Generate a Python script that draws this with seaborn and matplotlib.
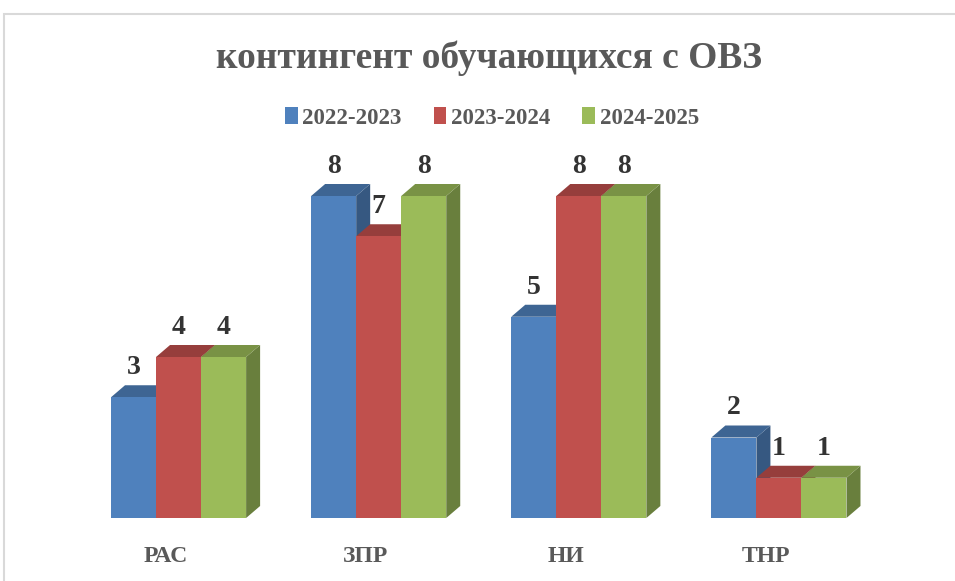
import matplotlib
matplotlib.use("Agg")
import matplotlib.pyplot as plt
import matplotlib.transforms as mtransforms
from matplotlib.patches import Polygon, Rectangle
import matplotlib.colors as mcolors
import seaborn as sns
import pandas as pd
import numpy as np

categories = ["РАС", "ЗПР", "НИ", "ТНР"]
years = ["2022-2023", "2023-2024", "2024-2025"]
vals_2022 = [3, 8, 5, 2]
vals_2023 = [4, 7, 8, 1]
vals_2024 = [4, 8, 8, 1]
colors = ["#4F81BD", "#C0504D", "#9BBB59"]
title = "контингент обучающихся с ОВЗ"

df = pd.DataFrame({
    "cat": categories * 3,
    "year": [years[0]] * 4 + [years[1]] * 4 + [years[2]] * 4,
    "val": vals_2022 + vals_2023 + vals_2024,
})

sns.set_theme(style="white")
plt.rcParams["font.family"] = ["Liberation Serif", "DejaVu Serif"]

W, H = 955, 581
fig = plt.figure(figsize=(W / 100, H / 100), dpi=100)
ax = fig.add_axes([78.5 / W, 63 / H, 800.5 / W, 9 * 40.25 / H])

sns.barplot(data=df, x="cat", y="val", hue="year", palette=colors,
            width=0.675, saturation=1, ax=ax, order=categories,
            hue_order=years, edgecolor="none", linewidth=0)
ax.set_ylim(0, 9)
ax.set_xlim(-0.5, 3.5)

fig.canvas.draw()
# depth offsets in data units derived from pixel offsets
inv = ax.transData.inverted()
p0 = inv.transform(ax.transData.transform((0, 0)))
p1 = inv.transform(ax.transData.transform((0, 0)) + np.array([14, 12]))
ddx, ddy = p1 - p0


def shade(c, f):
    r, g, b = mcolors.to_rgb(c)
    return (r * f, g * f, b * f)


for h, cont in enumerate(ax.containers):
    col = colors[h]
    for bar in cont:
        x0 = bar.get_x()
        w = bar.get_width()
        hh = bar.get_height()
        x1 = x0 + w
        bar.set_zorder(3 + 3 * h + 2)
        side = Polygon([(x1, 0), (x1 + ddx, ddy), (x1 + ddx, hh + ddy), (x1, hh)],
                       closed=True, facecolor=shade(col, 0.68), edgecolor="none",
                       zorder=3 + 3 * h)
        top = Polygon([(x0, hh), (x0 + ddx, hh + ddy), (x1 + ddx, hh + ddy), (x1, hh)],
                      closed=True, facecolor=shade(col, 0.78), edgecolor="none",
                      zorder=3 + 3 * h + 1)
        ax.add_patch(side)
        ax.add_patch(top)
        ax.text(x0 + w / 2, hh + ddy, f"{hh:g}", ha="center", va="bottom",
                fontsize=20, fontweight="bold", color="#333333",
                family=["Liberation Serif"], zorder=20,
                transform=ax.transData + mtransforms.ScaledTranslation(0, 5 / 100, fig.dpi_scale_trans))

for s in ax.spines.values():
    s.set_visible(False)
ax.set_yticks([])
ax.set_xlabel("")
ax.set_ylabel("")
ax.tick_params(axis="x", length=0, pad=20)
for lab in ax.get_xticklabels():
    lab.set_fontsize(17)
    lab.set_fontweight("bold")
    lab.set_color("#595959")
    lab.set_transform(lab.get_transform() + mtransforms.ScaledTranslation(-13 / 100, 0, fig.dpi_scale_trans))

handles, labels = ax.get_legend_handles_labels()
if ax.get_legend() is not None:
    ax.get_legend().remove()
leg = fig.legend(handles, labels, loc="center", bbox_to_anchor=(492 / W, 1 - 118 / H),
                 ncol=3, frameon=False, handlelength=0.55, handleheight=0.7,
                 handletextpad=0.2, columnspacing=1.4,
                 prop={"family": "Liberation Serif", "weight": "bold", "size": 16.5})
for t in leg.get_texts():
    t.set_color("#595959")

fig.text(489 / W, 1 - 58 / H, title, ha="center", va="center", fontsize=27,
         fontweight="bold", color="#595959")

fig.patches.append(Rectangle((4 / W, -0.1), 1.2, 1 - 14 / H + 0.1, transform=fig.transFigure,
                             fill=False, edgecolor="#D9D9D9", linewidth=1.5))

fig.savefig("out.png", dpi=100)
